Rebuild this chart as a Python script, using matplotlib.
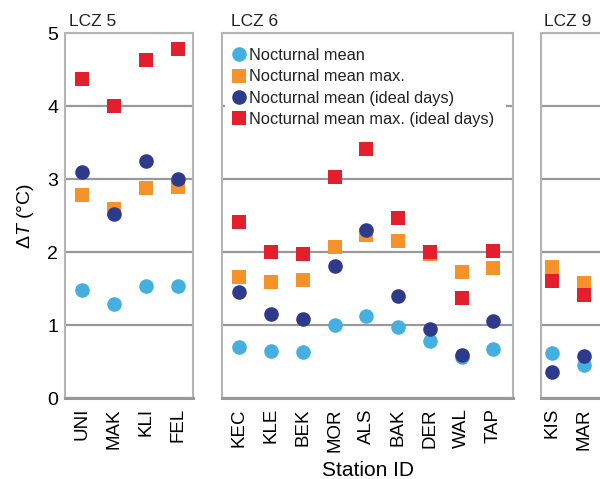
import numpy as np
import matplotlib
matplotlib.use('Agg')
import matplotlib.pyplot as plt

plt.rcParams['font.family'] = ['Liberation Sans', 'DejaVu Sans']
plt.rcParams['mathtext.fontset'] = 'custom'
plt.rcParams['mathtext.rm'] = 'Liberation Sans'
plt.rcParams['mathtext.it'] = 'Liberation Sans:italic'
plt.rcParams['text.color'] = '#222222'

# stations per LCZ group
lcz5 = ['UNI', 'MAK', 'KLI', 'FEL']
lcz6 = ['KEC', 'KLE', 'BEK', 'MOR', 'ALS', 'BAK', 'DER', 'WAL', 'TAP']
lcz9 = ['KIS', 'MAR']

# nocturnal mean
mean5 = [1.49, 1.29, 1.54, 1.54]
mean6 = [0.70, 0.65, 0.63, 1.00, 1.13, 0.98, 0.78, 0.56, 0.67]
mean9 = [0.62, 0.45]
# nocturnal mean max.
max5 = [2.79, 2.59, 2.88, 2.89]
max6 = [1.66, 1.59, 1.62, 2.07, 2.23, 2.15, 1.98, 1.73, 1.78]
max9 = [1.80, 1.58]
# nocturnal mean (ideal days)
imean5 = [3.10, 2.53, 3.25, 3.01]
imean6 = [1.45, 1.15, 1.08, 1.81, 2.31, 1.40, 0.95, 0.59, 1.06]
imean9 = [0.36, 0.58]
# nocturnal mean max. (ideal days)
imax5 = [4.37, 4.01, 4.63, 4.79]
imax6 = [2.41, 2.01, 1.97, 3.03, 3.42, 2.47, 2.01, 1.38, 2.02]
imax9 = [1.60, 1.42]

c_mean = '#45b0df'
c_max = '#f5922a'
c_imean = '#2e3a8c'
c_imax = '#e31e2d'

fig = plt.figure(figsize=(6, 4.79), dpi=100)
bottom, height = 0.1685, 0.762
ax1 = fig.add_axes([0.1083, bottom, 0.2133, height])
ax2 = fig.add_axes([0.37, bottom, 0.485, height])
ax3 = fig.add_axes([0.9017, bottom, 0.1587, height])

groups = [
    (ax1, 'LCZ 5', lcz5, mean5, max5, imean5, imax5, (0.45, 4.47)),
    (ax2, 'LCZ 6', lcz6, mean6, max6, imean6, imax6, (0.45, 9.62)),
    (ax3, 'LCZ 9', lcz9, mean9, max9, imean9, imax9, (0.64, 3.64)),
]

ms = 10.5
for ax, title, names, m, mx, im, imx, xl in groups:
    x = np.arange(1, len(names) + 1)
    ax.plot(x, m, 'o', color=c_mean, ms=ms, mew=0, label='Nocturnal mean', zorder=3)
    ax.plot(x, mx, 's', color=c_max, ms=ms, mew=0, label='Nocturnal mean max.', zorder=3)
    ax.plot(x, im, 'o', color=c_imean, ms=ms, mew=0, label='Nocturnal mean (ideal days)', zorder=3)
    ax.plot(x, imx, 's', color=c_imax, ms=ms, mew=0, label='Nocturnal mean max. (ideal days)', zorder=3)
    ax.set_xlim(*xl)
    ax.set_ylim(0, 5)
    ax.set_yticks(range(6))
    ax.set_xticks(x)
    ax.set_xticklabels(names, rotation=90, fontsize=13.5)
    ax.tick_params(axis='x', length=0, pad=7)
    ax.tick_params(axis='y', length=0, pad=5, labelsize=14)
    ax.grid(axis='y', color='#999999', lw=1.6, zorder=1)
    ax.set_axisbelow(True)
    for s in ['left', 'right', 'top']:
        ax.spines[s].set_color('#b4b4b4')
        ax.spines[s].set_linewidth(1.5)
    ax.spines['bottom'].set_color('#999999')
    ax.spines['bottom'].set_linewidth(2.2)
    ax.set_title(title, loc='left', fontsize=12.5, pad=5, x=0.03)
    if ax is not ax1:
        ax.set_yticklabels([])

ax1.set_ylabel(r'$\Delta\mathit{T}$ (°C)', fontsize=14, labelpad=8)
ax2.set_xlabel('Station ID', fontsize=15, labelpad=7)

leg = ax2.legend(loc='upper left', bbox_to_anchor=(0.012, 0.975, 0.965, 0), mode='expand',
                 frameon=True, fancybox=False, edgecolor='none', facecolor='white', framealpha=1,
                 fontsize=11.8, handlelength=0.9, handletextpad=0.2, borderpad=0.35,
                 labelspacing=0.38, borderaxespad=0)

fig.savefig('out.png', dpi=100)
